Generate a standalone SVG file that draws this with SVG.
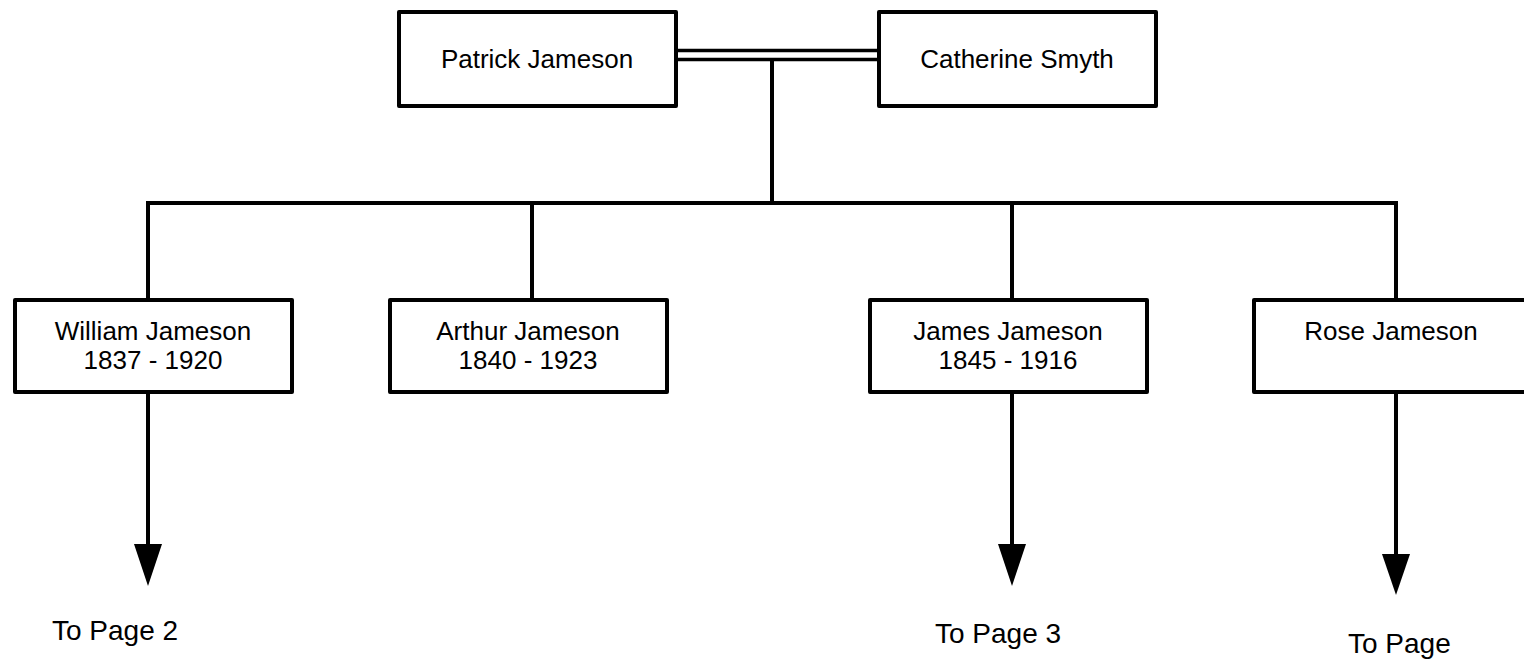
<svg xmlns="http://www.w3.org/2000/svg" width="1524" height="660" viewBox="0 0 1524 660">
<style>
.box{fill:#fff;stroke:#000;stroke-width:4;stroke-linejoin:round}
.ln{fill:none;stroke:#000;stroke-width:4}
.dbl{fill:none;stroke:#000;stroke-width:3.5}
.hd{fill:#000;stroke:none}
text{font-family:"Liberation Sans",Arial,sans-serif;font-size:26px;fill:#000}
.c{text-anchor:middle}
.pg{font-size:28px}
</style>
<rect width="1524" height="660" fill="#fff"/>
<g id="connectors">
<path class="dbl" d="M677 50.5H877M677 59.5H877"/>
<path class="ln" d="M772 59.5V203"/>
<path class="ln" d="M148 298V203H1396V298"/>
<path class="ln" d="M532 203V298M1012 203V298"/>
<path class="ln" d="M148 394V548M1012 394V548M1396 394V558"/>
<polygon class="hd" points="134,544 162,544 148,586"/>
<polygon class="hd" points="998,544 1026,544 1012,586"/>
<polygon class="hd" points="1382,554 1410,554 1396,595"/>
</g>
<g id="patrick"><rect class="box" x="399" y="12" width="277" height="94"/><text class="c" x="537" y="68">Patrick Jameson</text></g>
<g id="catherine"><rect class="box" x="879" y="12" width="277" height="94"/><text class="c" x="1017" y="68">Catherine Smyth</text></g>
<g id="william"><rect class="box" x="15" y="300" width="277" height="92"/><text class="c" x="153" y="340">William Jameson</text><text class="c" x="153" y="369">1837 - 1920</text></g>
<g id="arthur"><rect class="box" x="390" y="300" width="277" height="92"/><text class="c" x="528" y="340">Arthur Jameson</text><text class="c" x="528" y="369">1840 - 1923</text></g>
<g id="james"><rect class="box" x="870" y="300" width="277" height="92"/><text class="c" x="1008" y="340">James Jameson</text><text class="c" x="1008" y="369">1845 - 1916</text></g>
<g id="rose"><rect class="box" x="1254" y="300" width="277" height="92"/><text class="c" x="1391" y="340">Rose Jameson</text></g>
<g id="labels">
<text class="pg" x="52" y="640">To Page 2</text>
<text class="pg" x="935" y="643">To Page 3</text>
<text class="pg" x="1348" y="653">To Page</text>
</g>
</svg>
